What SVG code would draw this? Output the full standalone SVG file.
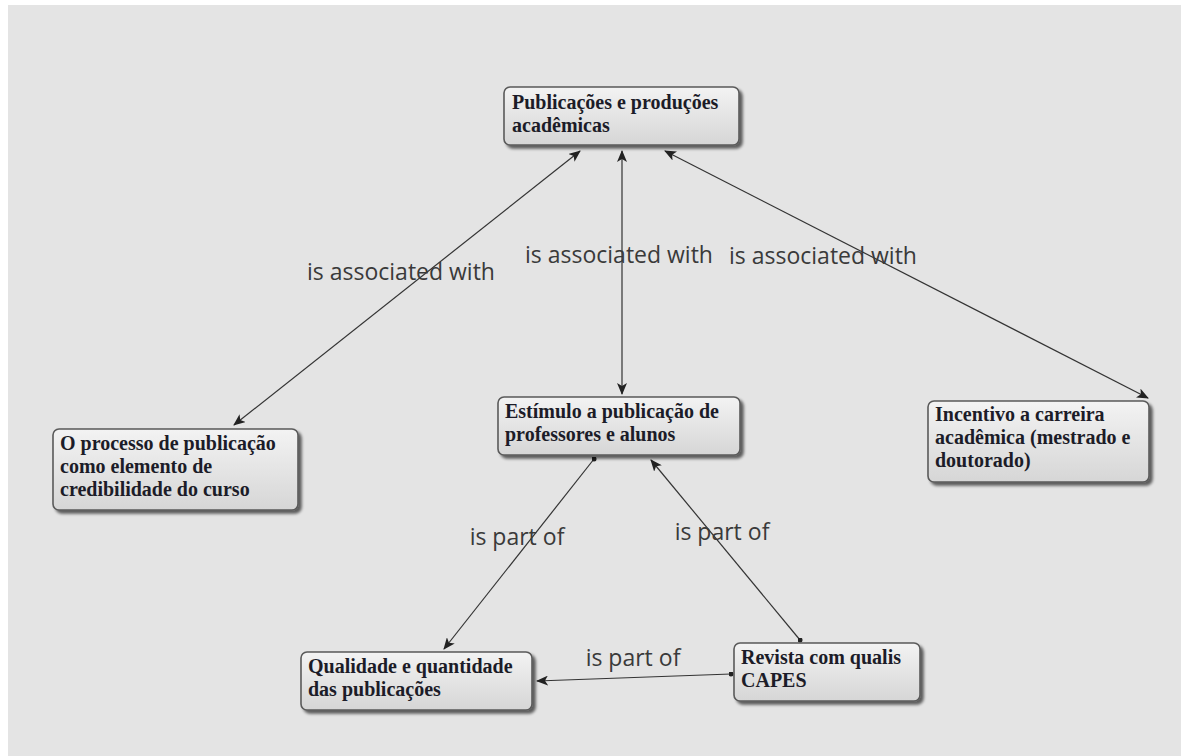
<svg xmlns="http://www.w3.org/2000/svg" width="1181" height="756" viewBox="0 0 1181 756">
  <defs>
    <linearGradient id="boxFill" x1="0" y1="0" x2="0" y2="1">
      <stop offset="0" stop-color="#f3f3f3"/>
      <stop offset="1" stop-color="#d6d6d6"/>
    </linearGradient>
    <filter id="shadow" x="-10%" y="-10%" width="130%" height="140%">
      <feGaussianBlur in="SourceAlpha" stdDeviation="1.5"/>
      <feOffset dx="3" dy="3" result="b"/>
      <feComponentTransfer><feFuncA type="linear" slope="0.6"/></feComponentTransfer>
      <feMerge><feMergeNode/><feMergeNode in="SourceGraphic"/></feMerge>
    </filter>
    <marker id="arrow" viewBox="0 0 12 10" refX="11" refY="5" markerWidth="12" markerHeight="10" markerUnits="userSpaceOnUse" orient="auto-start-reverse">
      <path d="M0,0 L12,5 L0,10 L3,5 Z" fill="#222"/>
    </marker>
    <marker id="dot" viewBox="0 0 6 6" refX="3" refY="3" markerWidth="5" markerHeight="5" markerUnits="userSpaceOnUse">
      <circle cx="3" cy="3" r="3" fill="#222"/>
    </marker>
  </defs>
  <style>
    .box { fill: url(#boxFill); stroke: #5a5a5a; stroke-width: 1.6; filter: url(#shadow); }
    .node text { font-family: "Liberation Serif", "DejaVu Serif", serif; font-weight: bold; font-size: 20px; fill: #1c1c28; }
    .link { stroke: #333; stroke-width: 1.2; fill: none; }
    .label { font-family: "Open Sans", "Noto Sans", sans-serif; font-size: 23px; fill: #3a3a3a; text-anchor: middle; }
  </style>

  <rect width="1181" height="756" fill="#ffffff"/>
  <rect x="8" y="5" width="1173" height="751" fill="#e4e4e4"/>

  <g id="connectors">
    <line class="link" x1="580" y1="151" x2="234" y2="425" marker-start="url(#arrow)" marker-end="url(#arrow)"/>
    <line class="link" x1="622" y1="151" x2="622" y2="394" marker-start="url(#arrow)" marker-end="url(#arrow)"/>
    <line class="link" x1="665" y1="151" x2="1148" y2="398" marker-start="url(#arrow)" marker-end="url(#arrow)"/>
    <line class="link" x1="594" y1="459" x2="444" y2="649" marker-start="url(#dot)" marker-end="url(#arrow)"/>
    <line class="link" x1="800" y1="640" x2="651" y2="460" marker-start="url(#dot)" marker-end="url(#arrow)"/>
    <line class="link" x1="731" y1="674" x2="537" y2="681" marker-start="url(#dot)" marker-end="url(#arrow)"/>
    <text class="label" x="401" y="280">is associated with</text>
    <text class="label" x="619" y="263">is associated with</text>
    <text class="label" x="823" y="264">is associated with</text>
    <text class="label" x="517" y="545">is part of</text>
    <text class="label" x="722" y="540">is part of</text>
    <text class="label" x="633" y="666">is part of</text>
  </g>

  <g id="node-publicacoes" class="node">
    <rect class="box" x="504" y="87" width="235" height="58" rx="6"/>
    <text x="512" y="109">Publicações e produções</text>
    <text x="512" y="132">acadêmicas</text>
  </g>

  <g id="node-processo" class="node">
    <rect class="box" x="53" y="429" width="245" height="81" rx="6"/>
    <text x="60" y="450">O processo de publicação</text>
    <text x="60" y="473">como elemento de</text>
    <text x="60" y="496">credibilidade do curso</text>
  </g>

  <g id="node-estimulo" class="node">
    <rect class="box" x="498" y="397" width="242" height="58" rx="6"/>
    <text x="505" y="418">Estímulo a publicação de</text>
    <text x="505" y="441">professores e alunos</text>
  </g>

  <g id="node-incentivo" class="node">
    <rect class="box" x="928" y="401" width="221" height="81" rx="6"/>
    <text x="935" y="421">Incentivo a carreira</text>
    <text x="935" y="444">acadêmica (mestrado e</text>
    <text x="935" y="467">doutorado)</text>
  </g>

  <g id="node-qualidade" class="node">
    <rect class="box" x="301" y="652" width="231" height="58" rx="6"/>
    <text x="308" y="673">Qualidade e quantidade</text>
    <text x="308" y="696">das publicações</text>
  </g>

  <g id="node-revista" class="node">
    <rect class="box" x="734" y="643" width="186" height="58" rx="6"/>
    <text x="741" y="664">Revista com qualis</text>
    <text x="741" y="687">CAPES</text>
  </g>
</svg>
